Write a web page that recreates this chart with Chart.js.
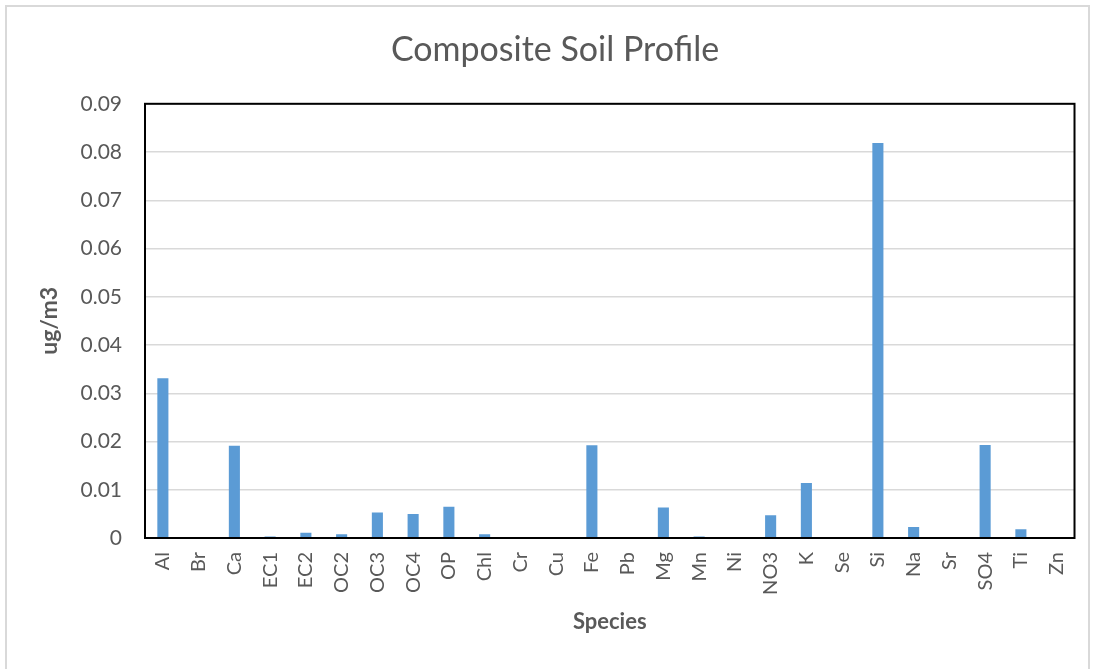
<!DOCTYPE html>
<html>
<head>
<meta charset="utf-8">
<script src="https://cdn.jsdelivr.net/npm/chart.js@4"></script>
<style>
html,body{margin:0;padding:0;background:#fff;}
#wrap{position:absolute;left:0;top:0;width:1095px;height:669px;}
</style>
</head>
<body>
<div id="wrap"><canvas id="c" width="1095" height="669"></canvas></div>
<script>
const categories = ["Al","Br","Ca","EC1","EC2","OC2","OC3","OC4","OP","Chl","Cr","Cu","Fe","Pb","Mg","Mn","Ni","NO3","K","Se","Si","Na","Sr","SO4","Ti","Zn"];
const values = [0.0331,0,0.0191,0.0003,0.0011,0.0008,0.0053,0.0050,0.0065,0.0008,0,0,0.0192,0,0.0063,0.0003,0,0.0047,0.0114,0,0.0819,0.0023,0,0.0193,0.0018,0];
const yTicks = [0,0.01,0.02,0.03,0.04,0.05,0.06,0.07,0.08,0.09];

const frame = {
  id:'frame',
  beforeDraw(chart){
    const ctx = chart.ctx;
    ctx.save();
    ctx.fillStyle='#fff';
    ctx.fillRect(0,0,chart.width,chart.height);
    ctx.strokeStyle='#d9d9d9';
    ctx.lineWidth=2;
    ctx.beginPath();
    ctx.moveTo(6,669);ctx.lineTo(6,6);ctx.lineTo(1089,6);ctx.lineTo(1089,669);
    ctx.stroke();
    ctx.restore();
  },
  afterDatasetsDraw(chart){
    const a = chart.chartArea, ctx = chart.ctx;
    ctx.save();
    ctx.strokeStyle='#000';
    ctx.lineWidth=2;
    ctx.strokeRect(a.left, a.top, a.right-a.left, a.bottom-a.top);
    ctx.restore();
  }
};

new Chart(document.getElementById('c'), {
  type:'bar',
  data:{
    labels:categories,
    datasets:[{data:values, backgroundColor:'#5b9bd5', borderWidth:0, categoryPercentage:1, barPercentage:0.31}]
  },
  options:{
    responsive:false,
    animation:false,
    layout:{padding:{left:34,right:19,top:0,bottom:0}},
    plugins:{
      legend:{display:false},
      tooltip:{enabled:false},
      title:{display:true,text:'Composite Soil Profile',color:'#595959',
        font:{family:'Lato',size:34,weight:'normal',lineHeight:1.2},
        padding:{top:30,bottom:33}}
    },
    scales:{
      x:{
        grid:{display:false, drawTicks:false},
        border:{display:true,color:'#000',width:2},
        ticks:{color:'#595959',font:{family:'Lato',size:20},minRotation:90,maxRotation:90,padding:14,autoSkip:false},
        title:{display:true,text:'Species',color:'#595959',font:{family:'Lato',size:22,weight:'bold',lineHeight:1.2},padding:{top:0,bottom:34}},
        afterFit(s){s.height=131;}
      },
      y:{
        min:0,max:0.09,
        grid:{color:'#d9d9d9',lineWidth:1.5,drawTicks:false},
        border:{display:true,color:'#000',width:2},
        afterBuildTicks(s){s.ticks = yTicks.map(v=>({value:v}));},
        ticks:{color:'#595959',font:{family:'Lato',size:21},padding:23,
          callback:(v)=> v===0?'0':String(+v.toFixed(2))},
        title:{display:true,text:'ug/m3',color:'#595959',font:{family:'Lato',size:23,weight:'bold',lineHeight:1.2},padding:{top:2,bottom:0}},
        afterFit(s){s.width=111;}
      }
    }
  },
  plugins:[frame]
});
</script>
</body>
</html>
